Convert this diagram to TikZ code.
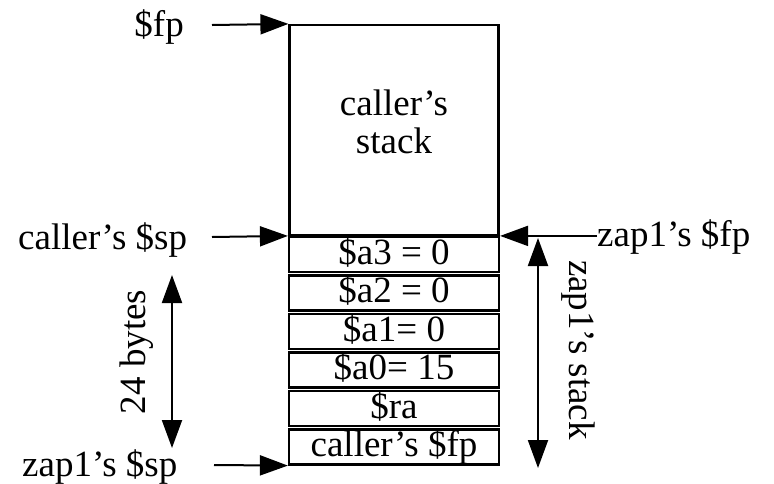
\documentclass[tikz,border=0pt]{standalone}
\usepackage{fontspec}
\setmainfont{Liberation Serif}
\usetikzlibrary{arrows.meta}
\begin{document}
\begin{tikzpicture}[x=1pt,y=-1pt,
  every node/.style={font=\fontsize{37}{38}\selectfont, inner sep=0pt},
  frame/.style={draw, line width=2.2pt},
  slot/.style={frame, minimum width=210pt, minimum height=35pt,
    text height=26pt, text depth=7pt},
  ptr/.style={line width=2pt, -{Triangle[length=28pt,width=20pt]}},
  span/.style={line width=2pt,
    {Triangle[length=28pt,width=20pt]}-{Triangle[length=28pt,width=20pt]}}]
\useasboundingbox (0,0) rectangle (774,483);

% caller's frame
\node[frame, minimum width=209pt, minimum height=210pt] (big) at (394,130) {};
\node[align=center] (bigtxt) at (394,122) {caller's\\stack};

% slots of zap1's frame
\node[slot] (a3)  at (394,254.5) {\$a3 = 0};
\node[slot] (a2)  at (394,293)   {\$a2 = 0};
\node[slot] (a1)  at (394,331.5) {\$a1= 0};
\node[slot] (a0)  at (394,370)   {\$a0= 15};
\node[slot] (ra)  at (394,408.5) {\$ra};
\node[slot] (cfp) at (394,447)   {caller's \$fp};

% pointer labels
\node[anchor=base east] (fpL)  at (184,36)  {\$fp};
\node[anchor=base west] (cspL) at (18,249)  {caller's \$sp};
\node[anchor=base west] (zfpL) at (597,246) {zap1's \$fp};
\node[anchor=base west] (zspL) at (22,476)  {zap1's \$sp};

% pointer arrows
\coordinate (fpS)  at (212,25);
\coordinate (cspS) at (212,237);
\coordinate (zspS) at (214,465);
\draw[ptr] (fpS) -- (big.north west);
\draw[ptr] (cspS) -- (a3.north west);
\draw[ptr] (zfpL.west |- a3.north east) -- (a3.north east);
\draw[ptr] (zspS) -- (cfp.south west);

% size spans
\coordinate (bTop) at (172,275);
\coordinate (bBot) at (172,448);
\draw[span] (bTop) -- (bBot);
\node[rotate=90] (bytes) at (137,352) {24 bytes};

\coordinate (sTop) at (538,238);
\coordinate (sBot) at (538,468);
\draw[span] (sTop) -- (sBot);
\node[rotate=-90] (zstack) at (578,350) {zap1's stack};
\end{tikzpicture}
\end{document}
